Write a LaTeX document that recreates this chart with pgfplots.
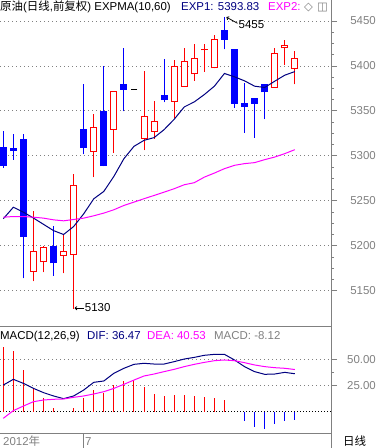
\documentclass[border=0pt]{standalone}
\usepackage{pgfplots}
\usepackage{pgfplotstable}
\pgfplotsset{compat=1.18}
\usetikzlibrary{arrows.meta}
\usepackage{fontspec}
\setmainfont{Liberation Sans}
\newfontfamily\cjk{Noto Sans CJK SC}
\newfontfamily\dejavu{DejaVu Sans}
\definecolor{gr}{HTML}{808080}
\definecolor{navy}{HTML}{000080}
\definecolor{mag}{HTML}{FF00FF}
\definecolor{bl}{HTML}{0000FF}
\definecolor{rd}{HTML}{FF0000}
\newcommand\fs{\fontsize{11.5}{13}\selectfont}
% rising candles: index open high low close
\pgfplotstableread{
i  o      h      l      c
3  5171.1 5238.3 5160.6 5194.8
4  5181.8 5200.4 5170.7 5199.3
6  5189.0 5211.6 5169.6 5194.8
7  5190.0 5279.5 5130.0 5267.3
9  5304.8 5346.4 5276.5 5332.7
11 5329.3 5371.7 5303.3 5371.7
14 5319.3 5394.3 5306.6 5344.9
15 5327.1 5360.9 5318.9 5339.4
17 5360.5 5406.5 5342.3 5399.5
18 5377.2 5419.9 5377.2 5405.1
19 5390.6 5424.4 5383.5 5408.4
20 5417.4 5424.4 5393.5 5419.2
21 5397.3 5434.4 5397.3 5429.6
27 5376.1 5419.6 5376.1 5414.0
28 5419.6 5428.8 5401.0 5422.9
29 5396.2 5416.6 5379.5 5408.4
}\upc
% falling candles
\pgfplotstableread{
i  o      h      l      c
0  5309.6 5327.8 5287.0 5288.8
1  5309.3 5324.9 5295.9 5305.5
2  5318.5 5324.9 5164.0 5209.7
5  5200.4 5221.6 5167.0 5180.7
8  5329.7 5379.8 5301.8 5308.8
10 5349.7 5400.0 5288.8 5288.8
12 5379.8 5419.9 5349.7 5373.5
16 5367.5 5407.7 5359.7 5362.0
22 5440.0 5455.0 5418.5 5429.2
23 5418.5 5418.5 5353.4 5357.9
24 5359.4 5381.3 5326.0 5354.5
25 5363.9 5363.9 5320.4 5358.3
26 5379.5 5379.5 5341.1 5370.6
}\dnc
\pgfplotsset{
  wick/.style={only marks, mark size=0pt, mark options={draw=none, fill=none}, forget plot,
    error bars/.cd, y dir=plus, y explicit, error mark=none,
    error bar style={line width=1bp, solid}},
  body/.style={only marks, mark size=0pt, mark options={draw=none, fill=none}, forget plot,
    error bars/.cd, y dir=plus, y explicit, error mark=none,
    error bar style={line width=#1, solid}},
}
\begin{document}
\begin{tikzpicture}
\path[use as bounding box] (0,0) rectangle (379bp,448bp);
% ---------------- main price panel ----------------
\begin{axis}[
  at={(0bp,448bp)}, anchor=north west,
  scale only axis, width=331bp, height=326.7bp,
  xmin=-0.328, xmax=32.6, ymin=5110.2, ymax=5473.4,
  axis x line=none, axis y line*=right,
  axis line style={gr, line width=1bp},
  ytick={5150,5200,...,5450}, minor y tick num=3,
  yticklabel pos=right,
  /pgf/number format/assume math mode=true,
  yticklabel={\pgfmathprintnumber[1000 sep={}]{\tick}},
  yticklabel style={gr, font=\fs, anchor=east, inner sep=0pt, xshift=39bp},
  tick style={gr, line width=1bp}, tick align=outside,
  major tick length=6bp, minor tick length=3bp,
  ymajorgrids, major grid style={gr, line width=1bp, dash pattern=on 1bp off 3bp},
]
% falling candles: wick and filled body
\addplot[bl, wick] table[x=i, y=l, y error expr=\thisrow{h}-\thisrow{l}] {\dnc};
\addplot[bl, body=7bp] table[x=i, y=c, y error expr=\thisrow{o}-\thisrow{c}] {\dnc};
% rising candles: wick, red body, white inside
\addplot[rd, wick] table[x=i, y=l, y error expr=\thisrow{h}-\thisrow{l}] {\upc};
\addplot[rd, body=7bp] table[x=i, y=o, y error expr=\thisrow{c}-\thisrow{o}] {\upc};
\addplot[white, body=5bp] table[x=i, y expr=\thisrow{o}+1.114, y error expr={max(\thisrow{c}-\thisrow{o}-2.228,0)}] {\upc};
% doji
\addplot[black, only marks, mark=-, mark size=3.4bp, mark options={line width=1bp}] coordinates {(13,5373.9)};
% EXP1
\addplot[navy, line width=1bp, mark=none] coordinates {
(0,5230.2) (1,5243.0) (2,5237.5) (3,5231.0) (4,5224.0) (5,5217.0) (6,5212.7) (7,5221.6)
(8,5235.7) (9,5252.4) (10,5260.6) (11,5277.3) (12,5297.0) (13,5310.7) (14,5317.4) (15,5320.4)
(16,5329.3) (17,5340.8) (18,5354.5) (19,5360.1) (20,5368.3) (21,5377.6) (22,5391.7) (23,5388.0)
(24,5383.5) (25,5377.6) (26,5376.1) (27,5383.1) (28,5389.8) (29,5393.83)};
% EXP2
\addplot[mag, line width=1bp, mark=none] coordinates {
(0,5231.9) (1,5232.7) (2,5232.7) (3,5231.9) (4,5230.9) (5,5229.0) (6,5227.9) (7,5229.4)
(8,5230.9) (9,5233.5) (10,5236.5) (11,5240.2) (12,5245.0) (13,5248.7) (14,5252.5) (15,5256.1)
(16,5259.8) (17,5263.6) (18,5268.0) (19,5270.3) (20,5276.5) (21,5281.0) (22,5285.9) (23,5289.6)
(24,5291.5) (25,5292.6) (26,5295.9) (27,5298.8) (28,5302.6) (29,5307.0)};
% annotations
\draw[black, line width=0.8bp, -{To[length=2.5bp,width=4bp]}] (axis cs:23.3,5447.5) -- (axis cs:22.2,5454.3);
\node[anchor=west, inner sep=0, font=\fs] at (axis cs:23.4,5445.5) {5455};
\draw[black, line width=0.8bp, -{To[length=2.5bp,width=4bp]}] (axis cs:8.05,5130.8) -- (axis cs:7.1,5130.8);
\node[anchor=west, inner sep=0, font=\fs] at (axis cs:8.1,5131) {5130};
\end{axis}
% ---------------- MACD panel ----------------
\begin{axis}[
  at={(0bp,121.3bp)}, anchor=north west,
  scale only axis, width=331bp, height=106.6bp,
  xmin=-0.328, xmax=32.6, ymin=-20.8, ymax=81.7,
  axis x line=box, axis y line*=right,
  axis line style={gr, line width=1bp},
  xtick=\empty,
  ytick={25,50}, minor y tick num=1,
  yticklabel pos=right,
  /pgf/number format/assume math mode=true,
  yticklabel={\pgfmathprintnumber[fixed, precision=2, zerofill]{\tick}},
  yticklabel style={gr, font=\fs, anchor=east, inner sep=0pt, xshift=39bp},
  tick style={gr, line width=1bp}, tick align=outside,
  major tick length=6bp, minor tick length=3bp,
  ymajorgrids, major grid style={gr, line width=1bp, dash pattern=on 1bp off 3bp},
]
\draw[black, line width=1bp, dash pattern=on 1bp off 2bp] (axis cs:-0.328,0) -- (axis cs:32.6,0);
\addplot[ycomb, rd, line width=1bp, mark=none] coordinates {
(0,62.5) (1,58.3) (2,40.0) (3,23.1) (4,12.8) (5,3.8) (7,4.0) (8,13.5) (9,20.8) (10,18.3)
(11,25.6) (12,29.5) (13,30.4) (14,23.4) (15,17.0) (16,15.0) (17,16.0) (18,16.0) (19,15.0)
(20,13.8) (21,13.1) (22,11.2)};
\addplot[ycomb, bl, line width=1bp, mark=none] coordinates {
(24,-8.7) (25,-14.4) (26,-16.3) (27,-12.2) (28,-8.7) (29,-8.12)};
% DIF
\addplot[navy, line width=1bp, mark=none] coordinates {
(0,25.6) (1,31.1) (2,27.2) (3,22.4) (4,18.3) (5,15.1) (6,12.5) (7,15.1) (8,20.8) (9,28.2)
(10,29.5) (11,36.9) (12,41.7) (13,45.5) (14,46.5) (15,45.8) (16,45.8) (17,48.1) (18,50.6)
(19,52.2) (20,54.2) (21,55.1) (22,55.1) (23,49.7) (24,43.3) (25,38.5) (26,35.9) (27,36.2)
(28,37.8) (29,36.47)};
% DEA
\addplot[mag, line width=1bp, mark=none] coordinates {
(0,-6.4) (1,1.0) (2,5.4) (3,9.6) (4,11.2) (5,11.9) (6,12.2) (7,13.8) (8,15.1) (9,17.0)
(10,19.2) (11,22.4) (12,26.3) (13,30.4) (14,34.3) (15,36.2) (16,38.5) (17,40.7) (18,43.3)
(19,45.5) (20,47.4) (21,49.0) (22,49.7) (23,49.0) (24,47.1) (25,44.9) (26,43.3) (27,42.3)
(28,41.7) (29,40.53)};
\end{axis}
% ---------------- texts and frame pieces ----------------
\draw[gr, line width=1bp] (331bp,0) -- (331bp,15bp);
\draw[gr, line width=1bp] (83.3bp,0) -- (83.3bp,14.7bp);
\node[anchor=base west, inner sep=0, font=\fs] at (0bp,437.5bp) {{\cjk 原油}({\cjk 日线},{\cjk 前复权}) EXPMA(10,60)};
\node[anchor=base west, inner sep=0, font=\fs, text=navy] at (181bp,437.5bp) {EXP1: 5393.83};
\node[anchor=base west, inner sep=0, font=\fs, text=mag] at (268bp,437.5bp) {EXP2:};
\node[anchor=base west, inner sep=0, font=\fs, text=gr] at (304bp,437.5bp) {\dejavu ◇};
\node[anchor=base west, inner sep=0, font=\fs, text=gr] at (317bp,437.5bp) {\dejavu ◫};
\node[anchor=base west, inner sep=0, font=\fs] at (0bp,108.5bp) {MACD(12,26,9)};
\node[anchor=base west, inner sep=0, font=\fs, text=navy] at (87bp,108.5bp) {DIF: 36.47};
\node[anchor=base west, inner sep=0, font=\fs, text=mag] at (147bp,108.5bp) {DEA: 40.53};
\node[anchor=base west, inner sep=0, font=\fs, text=gr] at (214bp,108.5bp) {MACD: -8.12};
\node[anchor=base west, inner sep=0, font=\fs, text=gr] at (3bp,2.5bp) {2012{\cjk 年}};
\node[anchor=base west, inner sep=0, font=\fs, text=gr] at (85bp,2.5bp) {7};
\node[anchor=base west, inner sep=0, font=\fs] at (343bp,2.5bp) {{\cjk 日线}};
\end{tikzpicture}
\end{document}
